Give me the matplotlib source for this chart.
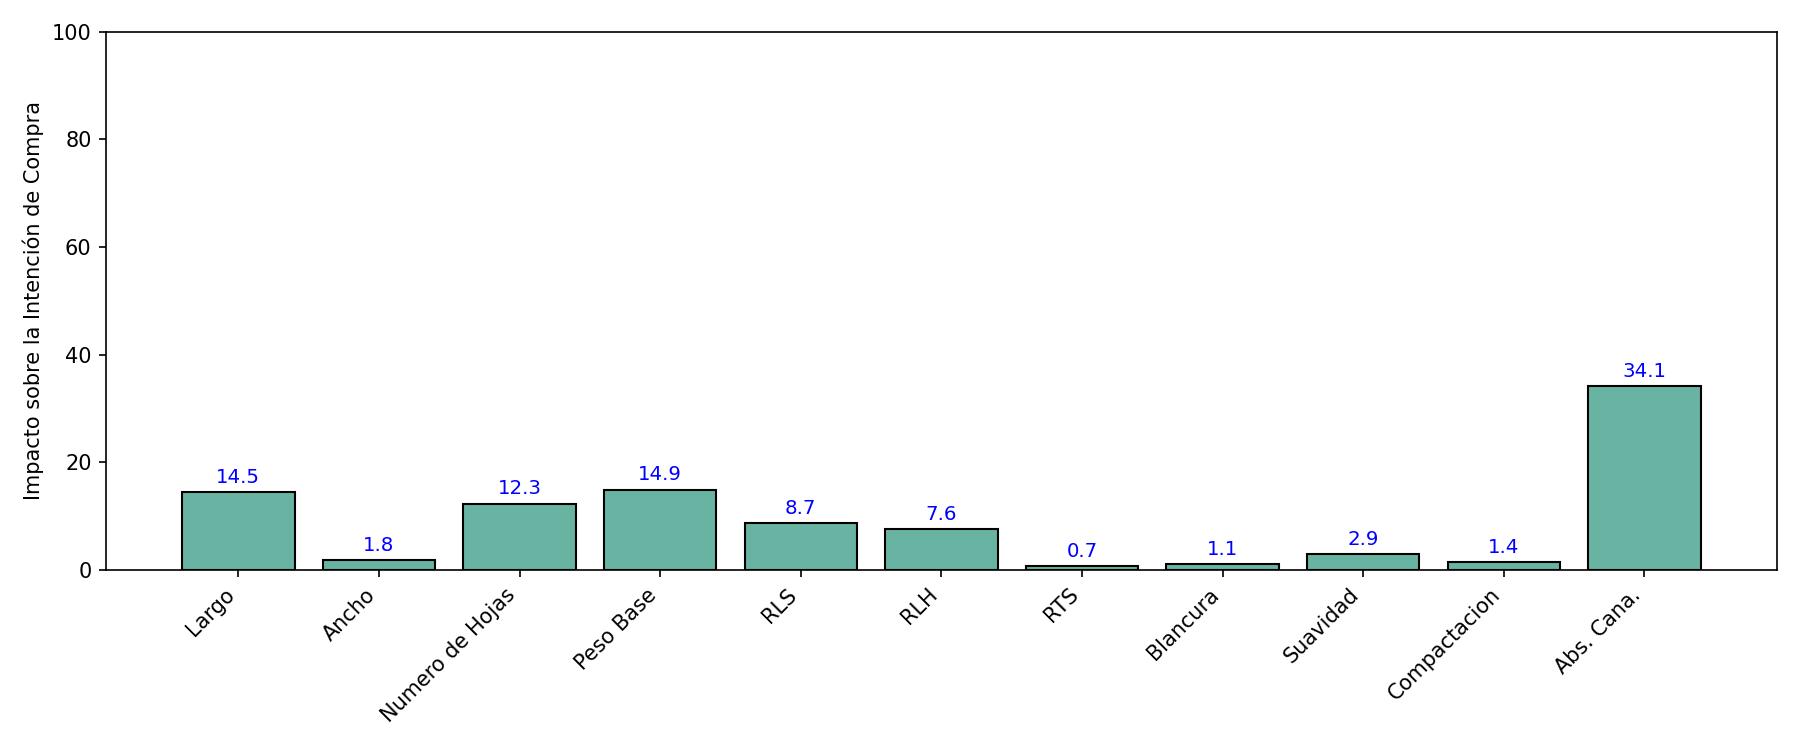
import matplotlib.pyplot as plt

categorias = ['Largo', 'Ancho', 'Numero de Hojas', 'Peso Base', 'RLS', 'RLH',
              'RTS', 'Blancura', 'Suavidad', 'Compactacion', 'Abs. Cana.']
impacto = [14.5, 1.8, 12.3, 14.9, 8.7, 7.6, 0.7, 1.1, 2.9, 1.4, 34.1]

fig, ax = plt.subplots(figsize=(12, 5), dpi=150)
bars = ax.bar(categorias, impacto, color='#69b3a2', edgecolor='black')

for b, v in zip(bars, impacto):
    ax.text(b.get_x() + b.get_width() / 2, b.get_height() + 1, f'{v:.1f}',
            ha='center', va='bottom', color='blue', fontsize=9.5)

ax.set_ylim(0, 100)
ax.set_ylabel('Impacto sobre la Intención de Compra')
plt.xticks(rotation=45, ha='right')

plt.subplots_adjust(left=0.059, right=0.987, top=0.958, bottom=0.24)
plt.savefig('out.png', dpi=150)
